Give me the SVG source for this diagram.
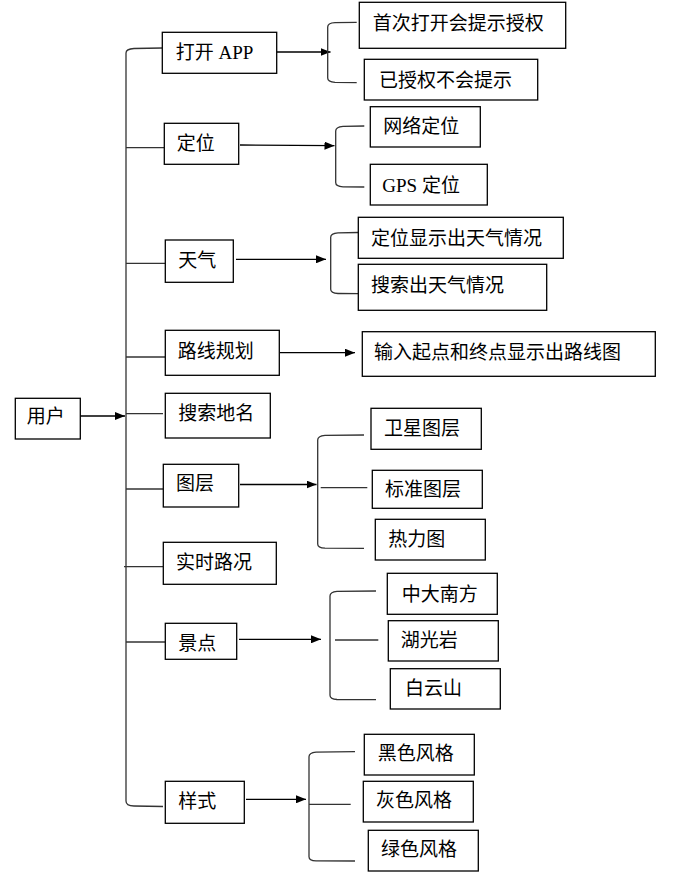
<svg xmlns="http://www.w3.org/2000/svg" width="678" height="891" viewBox="0 0 678 891">
<defs>
<marker id="ah" markerWidth="10" markerHeight="8" refX="10" refY="4" orient="auto" markerUnits="userSpaceOnUse">
<path d="M0,0 L10,4 L0,8 Z" fill="#000"/>
</marker>
<style>
.box{fill:#fff;stroke:#000;stroke-width:1.3}
.t{font-family:"Liberation Serif","Noto Sans CJK SC",serif;font-size:19px;fill:#000;dominant-baseline:central}
.c{fill:none;stroke:#333;stroke-width:1.3}
.a{fill:none;stroke:#000;stroke-width:1.3;marker-end:url(#ah)}
</style>
</defs>
<rect width="678" height="891" fill="#fff"/>
<g id="connectors">
<!-- trunk -->
<path class="c" d="M162,48 L134,48.5 Q126,49 126,53 L126,801 Q126,806 134,806 L163,806.5"/>
<line class="c" x1="126" y1="147.7" x2="164" y2="147.7"/>
<line class="c" x1="126" y1="263.3" x2="165" y2="263.3"/>
<line class="c" x1="126" y1="357" x2="165" y2="357"/>
<line class="c" x1="126" y1="413.7" x2="163" y2="413.7"/>
<line class="c" x1="126" y1="489" x2="163" y2="489"/>
<line class="c" x1="124" y1="566.7" x2="163" y2="566.7"/>
<line class="c" x1="126" y1="642" x2="165" y2="642"/>
<path class="a" d="M80,416 L125,416"/>
<!-- arrows -->
<path class="a" d="M277,52 L330.5,52"/>
<path class="a" d="M240,145 L334.5,145.7"/>
<path class="a" d="M236,259.3 L326,259.3"/>
<path class="a" d="M280,352.7 L355,352.7"/>
<path class="a" d="M240,484.5 L316.5,484.5"/>
<path class="a" d="M239,639.3 L321,639.3"/>
<path class="a" d="M246,799.3 L306,799.3"/>
<!-- braces -->
<path class="c" d="M356.7,22.3 L335,22.6 Q327.7,23 327.7,27 L327.7,78 Q327.7,82 335,82.3 L356.7,82.7"/>
<path class="c" d="M364.3,126 L343,126.4 Q335.7,127 335.7,131 L335.7,182.5 Q335.7,186.5 343,186.8 L364.3,187"/>
<path class="c" d="M358.3,232.5 L338,232.8 Q330.7,233.3 330.7,237.3 L330.7,289.3 Q330.7,293.3 338,293.5 L358.3,293.7"/>
<path class="c" d="M364,435 L325,435.4 Q317.7,436 317.7,440 L317.7,544 Q317.7,548 325,548.2 L364,548.3"/>
<line class="c" x1="320.7" y1="487.7" x2="367.3" y2="487.7"/>
<path class="c" d="M376,591 L337,591.4 Q330,592 330,596 L330,695.3 Q330,699.3 337,699.5 L376,699.7"/>
<line class="c" x1="335" y1="640" x2="378.3" y2="640"/>
<path class="c" d="M355,751.7 L316,752.1 Q309,752.7 309,756.7 L309,856.7 Q309,860.7 316,860.8 L355,861"/>
<line class="c" x1="309" y1="804.3" x2="350.7" y2="804.3"/>
</g>
<g id="n-user"><rect class="box" x="15.3" y="398.3" width="65" height="40.7"/><text class="t" x="26.7" y="416.7">用户</text></g>
<g id="n-open"><rect class="box" x="162.3" y="32.3" width="114.4" height="41"/><text class="t" x="175.7" y="52">打开 APP</text></g>
<g id="n-loc"><rect class="box" x="164.3" y="123.3" width="74.4" height="41"/><text class="t" x="176.7" y="143.3">定位</text></g>
<g id="n-weather"><rect class="box" x="165.3" y="240" width="68" height="42.3"/><text class="t" x="178.3" y="260">天气</text></g>
<g id="n-route"><rect class="box" x="165.3" y="330.3" width="114" height="45"/><text class="t" x="177.7" y="351.7">路线规划</text></g>
<g id="n-search"><rect class="box" x="165.3" y="393.3" width="105" height="44.7"/><text class="t" x="178.3" y="413.3">搜索地名</text></g>
<g id="n-layer"><rect class="box" x="163.3" y="464.3" width="75.4" height="42.7"/><text class="t" x="176" y="483.3">图层</text></g>
<g id="n-traffic"><rect class="box" x="163.3" y="542.3" width="113" height="42"/><text class="t" x="176" y="562.7">实时路况</text></g>
<g id="n-scenic"><rect class="box" x="165.3" y="623.3" width="71.4" height="36"/><text class="t" x="178.3" y="643.3">景点</text></g>
<g id="n-style"><rect class="box" x="165.3" y="781.3" width="79" height="42"/><text class="t" x="178.3" y="801.7">样式</text></g>
<g id="n-first"><rect class="box" x="359.3" y="2.3" width="206.4" height="46"/><text class="t" x="372.7" y="23.3">首次打开会提示授权</text></g>
<g id="n-authed"><rect class="box" x="364.3" y="59.3" width="173.4" height="40.7"/><text class="t" x="379" y="80">已授权不会提示</text></g>
<g id="n-net"><rect class="box" x="370.3" y="106.7" width="110" height="40.3"/><text class="t" x="383.3" y="126.7">网络定位</text></g>
<g id="n-gps"><rect class="box" x="370.3" y="164.3" width="117" height="40.7"/><text class="t" x="382.3" y="185">GPS 定位</text></g>
<g id="n-wloc"><rect class="box" x="358.3" y="217.3" width="205" height="41"/><text class="t" x="371" y="238.3">定位显示出天气情况</text></g>
<g id="n-wsearch"><rect class="box" x="358.3" y="264.3" width="188.4" height="46"/><text class="t" x="371" y="285">搜索出天气情况</text></g>
<g id="n-routeres"><rect class="box" x="362.3" y="331.7" width="293" height="44.6"/><text class="t" x="374" y="352.7">输入起点和终点显示出路线图</text></g>
<g id="n-sat"><rect class="box" x="371" y="408.3" width="110.3" height="41"/><text class="t" x="384" y="428.3">卫星图层</text></g>
<g id="n-std"><rect class="box" x="372.3" y="470.3" width="110" height="38"/><text class="t" x="385" y="489.3">标准图层</text></g>
<g id="n-heat"><rect class="box" x="375.3" y="519.3" width="110" height="40.7"/><text class="t" x="388.3" y="539.3">热力图</text></g>
<g id="n-zd"><rect class="box" x="387.3" y="573.3" width="110" height="41"/><text class="t" x="401.7" y="594">中大南方</text></g>
<g id="n-hgy"><rect class="box" x="388.3" y="620.7" width="110" height="40.3"/><text class="t" x="400.7" y="640">湖光岩</text></g>
<g id="n-bys"><rect class="box" x="390.3" y="668.7" width="110" height="40.3"/><text class="t" x="405" y="688.3">白云山</text></g>
<g id="n-black"><rect class="box" x="364.3" y="734.3" width="110" height="40.7"/><text class="t" x="377.7" y="753.3">黑色风格</text></g>
<g id="n-gray"><rect class="box" x="363.3" y="781.3" width="110" height="40.7"/><text class="t" x="376" y="800">灰色风格</text></g>
<g id="n-green"><rect class="box" x="368.3" y="830.3" width="110" height="40.7"/><text class="t" x="381" y="849.3">绿色风格</text></g>
</svg>
